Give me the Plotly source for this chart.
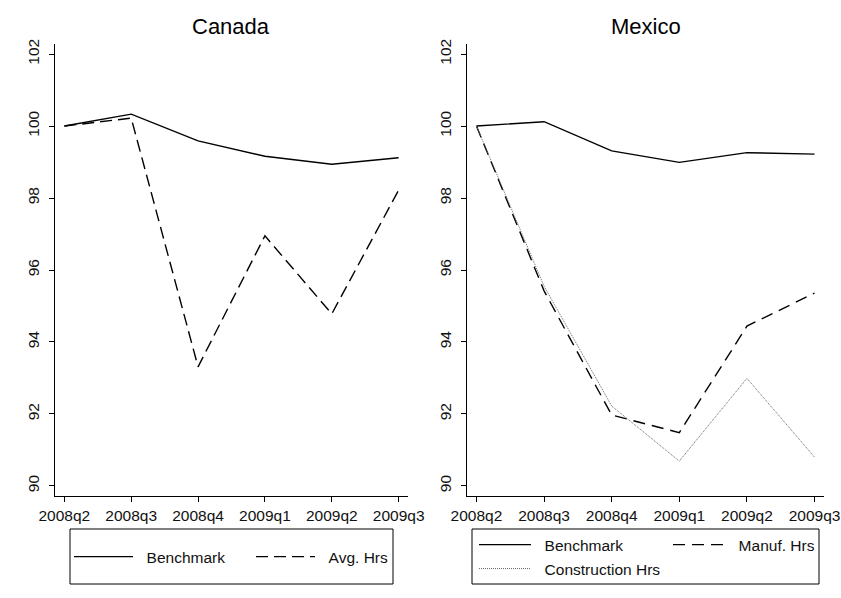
import plotly.graph_objects as go

quarters = ["2008q2", "2008q3", "2008q4", "2009q1", "2009q2", "2009q3"]
yticks = [90, 92, 94, 96, 98, 100, 102]

can_benchmark = [100.0, 100.33, 99.59, 99.16, 98.94, 99.12]
can_avg_hrs = [100.0, 100.22, 93.31, 96.95, 94.78, 98.22]

mex_benchmark = [100.0, 100.12, 99.31, 98.99, 99.26, 99.22]
mex_manuf_hrs = [100.0, 95.42, 91.97, 91.48, 94.44, 95.36]
mex_constr_hrs = [100.0, 95.55, 92.22, 90.69, 92.99, 90.80]

W, H = 841, 598
FONT = "Liberation Sans, Arial, sans-serif"
PAD = "\u00a0\u00a0"


def px(x):
    return x / W


def py(y):
    return 1 - y / H


fig = go.Figure()

# Canada
fig.add_trace(go.Scatter(x=quarters, y=can_benchmark, mode="lines", name=PAD + "Benchmark",
                         line=dict(color="black", width=1.4), xaxis="x", yaxis="y", legend="legend"))
fig.add_trace(go.Scatter(x=quarters, y=can_avg_hrs, mode="lines", name=PAD + "Avg. Hrs",
                         line=dict(color="black", width=1.4, dash="12px,6px"), xaxis="x", yaxis="y", legend="legend"))
# Mexico
fig.add_trace(go.Scatter(x=quarters, y=mex_benchmark, mode="lines", name=PAD + "Benchmark",
                         line=dict(color="black", width=1.4), xaxis="x2", yaxis="y2", legend="legend2"))
fig.add_trace(go.Scatter(x=quarters, y=mex_manuf_hrs, mode="lines", name=PAD + "Manuf. Hrs",
                         line=dict(color="black", width=1.4, dash="12px,7px"), xaxis="x2", yaxis="y2", legend="legend2"))
fig.add_trace(go.Scatter(x=quarters, y=mex_constr_hrs, mode="lines", name=PAD + "Construction Hrs",
                         line=dict(color="#666666", width=1, dash="1px,1px"), xaxis="x2", yaxis="y2", legend="legend3"))

ydom = [py(496), py(44)]
xdom1 = [px(55), px(408)]
xdom2 = [px(467), px(824)]

xaxis_common = dict(
    type="category", categoryorder="array", categoryarray=quarters,
    range=[-0.14, 5.14], showline=True, linecolor="black", linewidth=1,
    ticks="outside", ticklen=5, tickcolor="black", showgrid=False, zeroline=False,
    tickfont=dict(family=FONT, size=15.5, color="#111111"), mirror=False, automargin=False,
)
yaxis_common = dict(
    range=[89.72, 102.28], tickvals=yticks, showline=True, linecolor="black", linewidth=1,
    ticks="outside", ticklen=5, tickcolor="black", showgrid=False, zeroline=False,
    tickangle=-90, tickfont=dict(family=FONT, size=15.5, color="#111111"), ticklabelstandoff=4,
    automargin=False,
)

legend_common = dict(
    orientation="h", bgcolor="rgba(0,0,0,0)", borderwidth=0,
    font=dict(family=FONT, size=15.5, color="#111111"),
    xanchor="left", yanchor="middle", entrywidthmode="pixels",
    itemclick=False, itemdoubleclick=False,
)

fig.update_layout(
    width=W, height=H, margin=dict(l=0, r=0, t=0, b=0, autoexpand=False),
    paper_bgcolor="white", plot_bgcolor="white",
    font=dict(family=FONT, color="#111111"),
    xaxis=dict(domain=xdom1, anchor="y", **xaxis_common),
    yaxis=dict(domain=ydom, anchor="x", **yaxis_common),
    xaxis2=dict(domain=xdom2, anchor="y2", **xaxis_common),
    yaxis2=dict(domain=ydom, anchor="x2", **yaxis_common),
    legend=dict(x=px(69), y=py(557), entrywidth=108, itemwidth=59, **legend_common),
    legend2=dict(x=px(474), y=py(545), entrywidth=127, itemwidth=52, **legend_common),
    legend3=dict(x=px(474), y=py(569), itemwidth=52, **legend_common),
    annotations=[
        dict(text="Canada", x=(xdom1[0] + xdom1[1]) / 2, y=py(27), xref="paper", yref="paper",
             showarrow=False, font=dict(family=FONT, size=22, color="black"), xanchor="center", yanchor="middle"),
        dict(text="Mexico", x=(xdom2[0] + xdom2[1]) / 2, y=py(27), xref="paper", yref="paper",
             showarrow=False, font=dict(family=FONT, size=22, color="black"), xanchor="center", yanchor="middle"),
    ],
    shapes=[
        dict(type="rect", xref="paper", yref="paper", x0=px(70), x1=px(393), y0=py(584), y1=py(529),
             line=dict(color="black", width=1), fillcolor="rgba(0,0,0,0)"),
        dict(type="rect", xref="paper", yref="paper", x0=px(472), x1=px(819), y0=py(584), y1=py(529),
             line=dict(color="black", width=1), fillcolor="rgba(0,0,0,0)"),
    ],
)

fig.write_html("out.html")
